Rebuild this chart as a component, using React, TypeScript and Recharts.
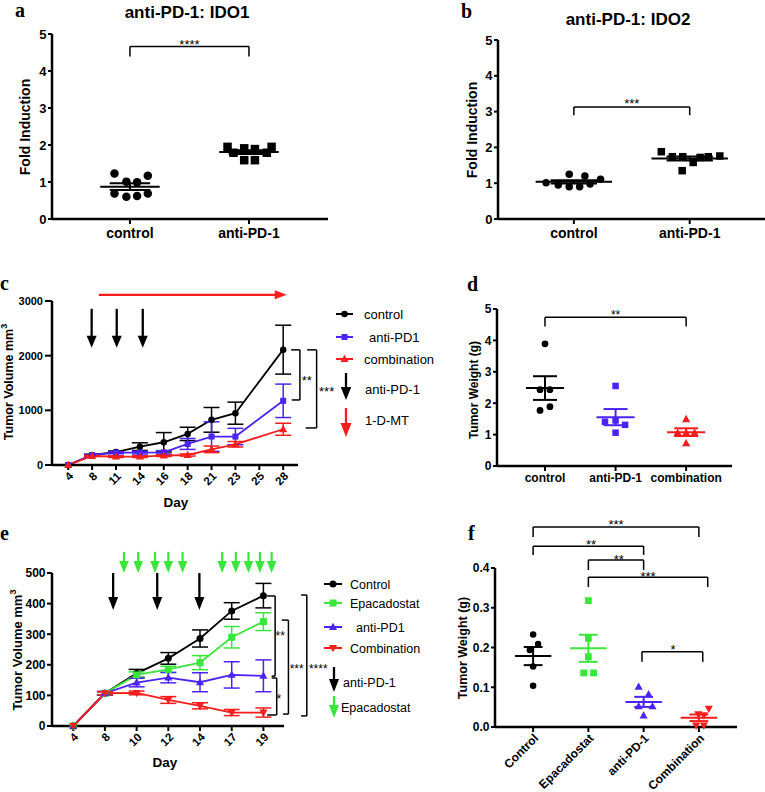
import React from 'react';
import {
  ScatterChart,
  ComposedChart,
  Scatter,
  Line,
  XAxis,
  YAxis,
  ReferenceLine,
  ReferenceDot,
  ErrorBar,
} from 'recharts';

const SANS = '"Liberation Sans", Arial, Helvetica, sans-serif';
const SERIF = '"Liberation Serif", "Times New Roman", serif';
const BLACK = '#000000';
const BLUE = '#4b23f3';
const RED = '#f71d1d';
const GREEN = '#39e639';

// a / b: fold induction
const idoCats = ['control', 'anti-PD-1'];
const ido1Control = [1.23, 1.17, 1.01, 0.99, 0.69, 0.69, 0.6, 0.62];
const ido1ControlJitter = [-0.13, 0.15, -0.03, 0.06, -0.13, 0.15, -0.03, 0.06];
const ido1Anti = [1.95, 1.95, 1.91, 1.89, 1.79, 1.79, 1.59, 1.59];
const ido1AntiJitter = [-0.18, 0.19, -0.04, 0.05, -0.13, 0.15, -0.04, 0.05];
const ido2Control = [1.01, 0.95, 1.25, 0.9, 0.9, 1.2, 0.98, 1.11];
const ido2ControlJitter = [-0.24, -0.135, -0.04, -0.04, 0.05, 0.095, 0.14, 0.23];
const ido2Anti = [1.88, 1.74, 1.74, 1.58, 1.72, 1.74, 1.76, 1.35];
const ido2AntiJitter = [-0.245, -0.15, -0.06, 0.03, 0.09, 0.16, 0.26, -0.065];
const foldTicks = [0, 1, 2, 3, 4, 5];

// c: tumor volume, 1-D-MT study
const cDays = ['4', '8', '11', '14', '16', '18', '21', '23', '25', '28'];
const cMeasured = ['4', '8', '11', '14', '16', '18', '21', '23', '28'];
const cControl = [0, 183, 236, 336, 416, 569, 826, 948, 2110];
const cControlErr = [0, 15, 20, 70, 177, 122, 226, 202, 447];
const cAnti = [0, 183, 226, 226, 232, 385, 520, 520, 1174];
const cAntiErr = [0, 10, 20, 25, 30, 100, 270, 150, 306];
const cCombo = [0, 165, 153, 153, 171, 183, 287, 379, 654];
const cComboErr = [0, 10, 15, 15, 15, 20, 60, 50, 110];
const cVolTicks = [0, 1000, 2000, 3000];
const cAntiDoses = [0.98, 2.03, 3.12];

// d: tumor weight
const wCats = ['control', 'anti-PD-1', 'combination'];
const wControl = [3.89, 2.43, 2.43, 1.77, 1.89];
const wControlJitter = [0, -0.07, 0.07, -0.07, 0.07];
const wAnti = [2.55, 1.41, 1.45, 1.31, 1.06];
const wAntiJitter = [0, -0.15, 0, 0.135, 0];
const wCombo = [1.49, 1.06, 1.06, 1.06, 0.72];
const wComboJitter = [0, -0.12, 0, 0.12, 0];
const wTicks = [0, 1, 2, 3, 4, 5];

// e: tumor volume, epacadostat study
const eDays = ['4', '8', '10', '12', '14', '17', '19'];
const eControl = [0, 107, 172, 221, 286, 376, 426];
const eControlErr = [0, 6, 13, 19, 28, 27, 40];
const eEpa = [0, 107, 167, 185, 207, 290, 341];
const eEpaErr = [0, 5, 10, 10, 23, 35, 29];
const eAnti = [0, 107, 142, 158, 143, 167, 164];
const eAntiErr = [0, 5, 14, 17, 31, 43, 52];
const eCombo = [0, 107, 108, 85, 66, 44, 44];
const eComboErr = [0, 5, 6, 11, 10, 10, 15];
const eVolTicks = [0, 100, 200, 300, 400, 500];
const eAntiDoses = [1.26, 2.65, 3.98];
const eEpaDoses = [1.6, 2.05, 2.58, 3.0, 3.45, 4.7, 5.13, 5.53, 5.89, 6.26];

// f: tumor weight
const fCats = ['Control', 'Epacadostat', 'anti-PD-1', 'Combination'];
const fControl = [0.233, 0.209, 0.194, 0.152, 0.104];
const fControlJitter = [0, 0.09, -0.06, 0, 0];
const fEpa = [0.318, 0.223, 0.177, 0.136, 0.136];
const fEpaJitter = [0, 0, 0, -0.085, 0.095];
const fAnti = [0.101, 0.082, 0.052, 0.052, 0.029];
const fAntiJitter = [-0.09, 0.09, -0.09, 0.16, 0];
const fCombo = [0.046, 0.032, 0.03, 0.004, 0.004];
const fComboJitter = [0.18, -0.01, 0.09, -0.05, 0.09];
const fTicks = [0, 0.1, 0.2, 0.3, 0.4];

type Box = { left: number; top: number; width: number; height: number };
type Plot = { x0: number; x1: number; y0: number; y1: number };

const AXIS = { stroke: BLACK, strokeWidth: 2.5 };
const TICKLINE = { stroke: BLACK, strokeWidth: 2 };

const marginFor = (box: Box, plot: Plot, yw: number, xh: number) => ({
  left: plot.x0 - box.left - yw,
  right: box.left + box.width - plot.x1,
  top: plot.y0 - box.top,
  bottom: box.top + box.height - plot.y1 - xh,
});

const stats = (v: number[]) => {
  const n = v.length;
  const mean = v.reduce((a, b) => a + b, 0) / n;
  const sd = Math.sqrt(v.reduce((a, b) => a + (b - mean) ** 2, 0) / (n - 1));
  return { mean, sem: sd / Math.sqrt(n) };
};

function mark(kind: string, cx: number, cy: number, s: number, color: string) {
  const h = s / 2;
  if (kind === 'circle') return <circle cx={cx} cy={cy} r={h} fill={color} />;
  if (kind === 'square') return <rect x={cx - h} y={cy - h} width={s} height={s} fill={color} />;
  if (kind === 'up')
    return (
      <polygon
        points={`${cx},${cy - s * 0.62} ${cx + s * 0.58},${cy + s * 0.42} ${cx - s * 0.58},${cy + s * 0.42}`}
        fill={color}
      />
    );
  return (
    <polygon
      points={`${cx},${cy + s * 0.62} ${cx + s * 0.58},${cy - s * 0.42} ${cx - s * 0.58},${cy - s * 0.42}`}
      fill={color}
    />
  );
}

const xTick = (labels: string[], size: number, rotate: boolean) => (p: any) => {
  const label = labels[Math.round(p.payload.value)] ?? '';
  if (rotate) {
    const x = p.x + 3;
    return (
      <text x={x} y={p.y} dy={size * 0.35} textAnchor="end" transform={`rotate(-45 ${x} ${p.y})`}
        fontSize={size} fontWeight="bold" fontFamily={SANS} fill={BLACK}>
        {label}
      </text>
    );
  }
  return (
    <text x={p.x} y={p.y} dy={size * 0.72} textAnchor="middle" fontSize={size} fontWeight="bold"
      fontFamily={SANS} fill={BLACK}>
      {label}
    </text>
  );
};

const yTick = (fmt: (v: number) => string, size: number) => (p: any) => (
  <text x={p.x} y={p.y} dy={size * 0.36} textAnchor="end" fontSize={size} fontWeight="bold"
    fontFamily={SANS} fill={BLACK}>
    {fmt(p.payload.value)}
  </text>
);

const starShape = (label: string, size: number) => (p: any) => (
  <text x={p.cx} y={p.cy + size * 0.58} textAnchor="middle" fontSize={size} fontFamily={SANS} fill={BLACK}>
    {label}
  </text>
);

const arrowShape = (color: string, head: number, width: number, sw: number) => (p: any) => {
  const { x1, y1, x2, y2 } = p;
  const len = Math.hypot(x2 - x1, y2 - y1) || 1;
  const ux = (x2 - x1) / len;
  const uy = (y2 - y1) / len;
  const bx = x2 - ux * head;
  const by = y2 - uy * head;
  return (
    <g>
      <line x1={x1} y1={y1} x2={bx + ux} y2={by + uy} stroke={color} strokeWidth={sw} />
      <polygon
        points={`${x2},${y2} ${bx - (uy * width) / 2},${by + (ux * width) / 2} ${bx + (uy * width) / 2},${by - (ux * width) / 2}`}
        fill={color}
      />
    </g>
  );
};

type Group = { name: string; values: number[]; jitter: number[]; color: string; kind: string; size: number };
type TopBracket = { x1: number; x2: number; y: number; drop: number; label: string; lx: number; ly: number };

const seg = (key: string, a: [number, number], b: [number, number], color: string, w: number) => (
  <ReferenceLine key={key} segment={[{ x: a[0], y: a[1] }, { x: b[0], y: b[1] }]} stroke={color}
    strokeWidth={w} ifOverflow="visible" />
);

function ScatterPanel(props: {
  box: Box; plot: Plot; cats: string[]; xDomain: [number, number]; yDomain: [number, number];
  yTicks: number[]; yFmt: (v: number) => string; groups: Group[]; brackets: TopBracket[];
  meanHalf: number; semHalf: number; xFont: number; yFont: number; rotate?: boolean;
  xTickMargin: number; starSize: number;
}) {
  const { box, plot, cats, groups, brackets, meanHalf, semHalf } = props;
  const xh = props.rotate ? 60 : 30;
  const m = marginFor(box, plot, 30, xh);
  return (
    <div style={{ position: 'absolute', left: box.left, top: box.top }}>
      <ScatterChart width={box.width} height={box.height} margin={m}>
        <XAxis type="number" dataKey="x" domain={props.xDomain} ticks={cats.map((_, i) => i)} interval={0}
          height={xh} axisLine={AXIS} tickLine={TICKLINE} tickSize={5} tickMargin={props.xTickMargin}
          tick={xTick(cats, props.xFont, !!props.rotate)} />
        <YAxis type="number" dataKey="y" domain={props.yDomain} ticks={props.yTicks} interval={0} width={30}
          axisLine={AXIS} tickLine={TICKLINE} tickSize={4} tickMargin={1.5} tick={yTick(props.yFmt, props.yFont)} />
        {groups.map((g, gi) => (
          <Scatter key={g.name} name={g.name} isAnimationActive={false}
            data={g.values.map((v, k) => ({ x: gi + g.jitter[k], y: v }))}
            shape={(p: any) => mark(g.kind, p.cx, p.cy, g.size, g.color)} />
        ))}
        {groups.flatMap((g, gi) => {
          const { mean, sem } = stats(g.values);
          return [
            seg(`m${gi}`, [gi - meanHalf, mean], [gi + meanHalf, mean], g.color, 2),
            seg(`su${gi}`, [gi - semHalf, mean + sem], [gi + semHalf, mean + sem], g.color, 2),
            seg(`sl${gi}`, [gi - semHalf, mean - sem], [gi + semHalf, mean - sem], g.color, 2),
            seg(`sv${gi}`, [gi, mean - sem], [gi, mean + sem], g.color, 2),
          ];
        })}
        {brackets.flatMap((b, bi) => [
          seg(`bh${bi}`, [b.x1, b.y], [b.x2, b.y], BLACK, 1.5),
          seg(`bl${bi}`, [b.x1, b.y], [b.x1, b.y - b.drop], BLACK, 1.5),
          seg(`br${bi}`, [b.x2, b.y], [b.x2, b.y - b.drop], BLACK, 1.5),
          <ReferenceDot key={`bt${bi}`} x={b.lx} y={b.ly} ifOverflow="visible"
            shape={starShape(b.label, props.starSize)} />,
        ])}
      </ScatterChart>
    </div>
  );
}

type Series = { key: string; name: string; values: number[]; errs: number[]; color: string; kind: string; size: number };
type SideBracket = { xv: number; yTop: number; yBot: number; xTop: number; xBot: number; label: string; lx: number; ly: number };
type Arrow = { x1: number; y1: number; x2: number; y2: number; color: string; head: number; width: number; sw: number };

function LinePanel(props: {
  box: Box; plot: Plot; tickDays: string[]; dataDays: string[]; xDomain: [number, number];
  yDomain: [number, number]; yTicks: number[]; series: Series[]; brackets: SideBracket[];
  arrows: Arrow[]; starSize: number; yFont: number; yTickSize: number; yTickMargin: number;
}) {
  const { box, plot, tickDays, series } = props;
  const m = marginFor(box, plot, 38, 30);
  const rows = props.dataDays.map((d, i) => {
    const r: Record<string, number> = { x: tickDays.indexOf(d) };
    series.forEach((s) => {
      r[s.key] = s.values[i];
      r[`${s.key}Err`] = s.errs[i];
    });
    return r;
  });
  return (
    <div style={{ position: 'absolute', left: box.left, top: box.top }}>
      <ComposedChart width={box.width} height={box.height} margin={m} data={rows}>
        <XAxis type="number" dataKey="x" domain={props.xDomain} ticks={tickDays.map((_, i) => i)} interval={0}
          height={30} axisLine={AXIS} tickLine={TICKLINE} tickSize={5} tickMargin={4}
          tick={xTick(tickDays, 11.5, true)} />
        <YAxis type="number" domain={props.yDomain} ticks={props.yTicks} interval={0} width={38}
          axisLine={AXIS} tickLine={TICKLINE} tickSize={props.yTickSize} tickMargin={props.yTickMargin}
          tick={yTick((v) => String(v), props.yFont)} />
        {series.map((s) => (
          <Line key={s.key} dataKey={s.key} name={s.name} stroke={s.color} strokeWidth={1.8}
            isAnimationActive={false} activeDot={false}
            dot={(p: any) => <g key={`${s.key}${p.index}`}>{mark(s.kind, p.cx, p.cy, s.size, s.color)}</g>}>
            <ErrorBar dataKey={`${s.key}Err`} direction="y" width={8} stroke={s.color} strokeWidth={1.5} />
          </Line>
        ))}
        {props.brackets.flatMap((b, bi) => [
          seg(`st${bi}`, [b.xTop, b.yTop], [b.xv, b.yTop], BLACK, 1.5),
          seg(`sv${bi}`, [b.xv, b.yTop], [b.xv, b.yBot], BLACK, 1.5),
          seg(`sb${bi}`, [b.xBot, b.yBot], [b.xv, b.yBot], BLACK, 1.5),
          <ReferenceDot key={`sl${bi}`} x={b.lx} y={b.ly} ifOverflow="visible"
            shape={starShape(b.label, props.starSize)} />,
        ])}
        {props.arrows.map((a, ai) => (
          <ReferenceLine key={`ar${ai}`} segment={[{ x: a.x1, y: a.y1 }, { x: a.x2, y: a.y2 }]}
            ifOverflow="visible" shape={arrowShape(a.color, a.head, a.width, a.sw)} />
        ))}
      </ComposedChart>
    </div>
  );
}

const cSeries: Series[] = [
  { key: 'control', name: 'control', values: cControl, errs: cControlErr, color: BLACK, kind: 'circle', size: 6.5 },
  { key: 'anti', name: 'anti-PD1', values: cAnti, errs: cAntiErr, color: BLUE, kind: 'square', size: 6 },
  { key: 'combo', name: 'combination', values: cCombo, errs: cComboErr, color: RED, kind: 'up', size: 7 },
];

const eSeries: Series[] = [
  { key: 'control', name: 'Control', values: eControl, errs: eControlErr, color: BLACK, kind: 'circle', size: 7 },
  { key: 'epa', name: 'Epacadostat', values: eEpa, errs: eEpaErr, color: GREEN, kind: 'square', size: 7 },
  { key: 'anti', name: 'anti-PD1', values: eAnti, errs: eAntiErr, color: BLUE, kind: 'up', size: 7 },
  { key: 'combo', name: 'Combination', values: eCombo, errs: eComboErr, color: RED, kind: 'down', size: 7 },
];

const cArrows: Arrow[] = [
  ...cAntiDoses.map((x) => ({ x1: x, y1: 2857, x2: x, y2: 2143, color: BLACK, head: 12, width: 10, sw: 2.3 })),
  { x1: 1.28, y1: 3113, x2: 9.15, y2: 3113, color: RED, head: 12, width: 9, sw: 2.2 },
];

const eArrows: Arrow[] = [
  ...eAntiDoses.map((x) => ({ x1: x, y1: 500, x2: x, y2: 379, color: BLACK, head: 13, width: 10, sw: 2.3 })),
  ...eEpaDoses.map((x) => ({ x1: x, y1: 569, x2: x, y2: 500, color: GREEN, head: 12, width: 9.5, sw: 2.2 })),
];

const cBrackets: SideBracket[] = [
  { xv: 9.7, yTop: 2106, yBot: 1190, xTop: 9.33, xBot: 9.36, label: '**', lx: 9.99, ly: 1593 },
  { xv: 10.4, yTop: 2106, yBot: 678, xTop: 10.0, xBot: 9.94, label: '***', lx: 10.82, ly: 1392 },
];

const eBrackets: SideBracket[] = [
  { xv: 6.37, yTop: 425, yBot: 163, xTop: 6.12, xBot: 6.26, label: '**', lx: 6.53, ly: 304 },
  { xv: 6.42, yTop: 157, yBot: 36, xTop: 6.26, xBot: 6.12, label: '*', lx: 6.49, ly: 98 },
  { xv: 6.79, yTop: 346, yBot: 39, xTop: 6.58, xBot: 6.62, label: '***', lx: 7.05, ly: 196 },
  { xv: 7.37, yTop: 428, yBot: 33, xTop: 7.19, xBot: 7.19, label: '****', lx: 7.73, ly: 196 },
];

function legendRow(key: string, x1: number, x2: number, y: number, s: Series, tx: number, fs: number) {
  return (
    <g key={key}>
      <line x1={x1} x2={x2} y1={y} y2={y} stroke={s.color} strokeWidth={2} />
      {mark(s.kind, (x1 + x2) / 2, y, s.size, s.color)}
      <text x={tx} y={y + fs * 0.36} fontSize={fs} fontFamily={SANS} fill={BLACK}>{s.name}</text>
    </g>
  );
}

function legendArrow(x: number, y1: number, y2: number, color: string, head: number, width: number) {
  return arrowShape(color, head, width, 2.3)({ x1: x, y1, x2: x, y2 });
}

function Overlay() {
  const bold = { fontFamily: SANS, fontWeight: 'bold' as const, fill: BLACK };
  const vtext = (x: number, y: number, size: number, children: React.ReactNode) => (
    <text x={x} y={y} transform={`rotate(-90 ${x} ${y})`} textAnchor="middle" fontSize={size} {...bold}>
      {children}
    </text>
  );
  const letter = (t: string, x: number, y: number) => (
    <text key={t} x={x} y={y} fontSize={20} fontFamily={SERIF} fontWeight="bold" fill={BLACK}>{t}</text>
  );
  return (
    <svg width={765} height={792} style={{ position: 'absolute', left: 0, top: 0, pointerEvents: 'none' }}>
      {letter('a', 15, 17)}
      {letter('b', 461, 18)}
      {letter('c', 0, 290)}
      {letter('d', 467, 291)}
      {letter('e', 0, 540)}
      {letter('f', 468, 540)}
      <text x={187} y={18} textAnchor="middle" fontSize={17} {...bold}>anti-PD-1: IDO1</text>
      <text x={628} y={25} textAnchor="middle" fontSize={17} {...bold}>anti-PD-1: IDO2</text>
      {vtext(30, 127, 14, 'Fold Induction')}
      {vtext(477, 130, 14, 'Fold Induction')}
      {vtext(13, 382, 12.5, <>Tumor Volume mm<tspan dy={-6} fontSize={9}>3</tspan></>)}
      {vtext(22, 650, 13, <>Tumor Volume mm<tspan dy={-6} fontSize={9}>3</tspan></>)}
      {vtext(478, 390, 12, 'Tumor Weight (g)')}
      {vtext(467, 648, 12.5, 'Tumor Weight (g)')}
      <text x={176} y={507} textAnchor="middle" fontSize={13.5} {...bold}>Day</text>
      <text x={165} y={767} textAnchor="middle" fontSize={13.5} {...bold}>Day</text>

      {legendRow('lc0', 336, 353, 314, cSeries[0], 364, 13)}
      {legendRow('lc1', 336, 353, 337, cSeries[1], 369, 13)}
      {legendRow('lc2', 336, 353, 359, cSeries[2], 364, 13)}
      {legendArrow(346, 373, 400, BLACK, 13, 10.5)}
      <text x={365} y={393.5} fontSize={13} fontFamily={SANS} fill={BLACK}>anti-PD-1</text>
      {legendArrow(346, 408, 437, RED, 14, 11)}
      <text x={365} y={424.5} fontSize={13} fontFamily={SANS} fill={BLACK}>1-D-MT</text>

      {legendRow('le0', 324, 342, 584, eSeries[0], 350, 12.5)}
      {legendRow('le1', 324, 342, 603, eSeries[1], 350, 12.5)}
      {legendRow('le2', 324, 342, 627, eSeries[2], 356, 12.5)}
      {legendRow('le3', 324, 342, 648, eSeries[3], 350, 12.5)}
      {legendArrow(334, 667, 692, BLACK, 13, 10)}
      <text x={343} y={686.5} fontSize={12.5} fontFamily={SANS} fill={BLACK}>anti-PD-1</text>
      {legendArrow(334, 696, 718, GREEN, 13, 10)}
      <text x={341} y={711.5} fontSize={12.5} fontFamily={SANS} fill={BLACK}>Epacadostat</text>
    </svg>
  );
}

const fmtInt = (v: number) => String(v);

export default function App() {
  return (
    <div style={{ position: 'absolute', left: 0, top: 0, width: 765, height: 792, background: '#fff', overflow: 'hidden' }}>
      <ScatterPanel
        box={{ left: 0, top: 0, width: 380, height: 260 }}
        plot={{ x0: 52, x1: 328, y0: 34, y1: 219 }}
        cats={idoCats} xDomain={[-0.655, 1.664]} yDomain={[0, 5]} yTicks={foldTicks} yFmt={fmtInt}
        groups={[
          { name: 'control', values: ido1Control, jitter: ido1ControlJitter, color: BLACK, kind: 'circle', size: 8.5 },
          { name: 'anti-PD-1', values: ido1Anti, jitter: ido1AntiJitter, color: BLACK, kind: 'square', size: 8.5 },
        ]}
        brackets={[{ x1: 0, x2: 1, y: 4.66, drop: 0.27, label: '****', lx: 0.5, ly: 4.79 }]}
        meanHalf={0.25} semHalf={0.17} xFont={14} yFont={13} xTickMargin={4} starSize={13}
      />
      <ScatterPanel
        box={{ left: 380, top: 0, width: 385, height: 260 }}
        plot={{ x0: 498, x1: 765, y0: 40, y1: 219 }}
        cats={idoCats} xDomain={[-0.655, 1.65]} yDomain={[0, 5]} yTicks={foldTicks} yFmt={fmtInt}
        groups={[
          { name: 'control', values: ido2Control, jitter: ido2ControlJitter, color: BLACK, kind: 'circle', size: 7.5 },
          { name: 'anti-PD-1', values: ido2Anti, jitter: ido2AntiJitter, color: BLACK, kind: 'square', size: 7.5 },
        ]}
        brackets={[{ x1: 0, x2: 1, y: 3.13, drop: 0.23, label: '***', lx: 0.5, ly: 3.31 }]}
        meanHalf={0.33} semHalf={0.2} xFont={14} yFont={13} xTickMargin={4} starSize={13}
      />
      <LinePanel
        box={{ left: 0, top: 280, width: 345, height: 240 }}
        plot={{ x0: 52, x1: 298, y0: 301, y1: 465 }}
        tickDays={cDays} dataDays={cMeasured} xDomain={[-0.68, 9.62]} yDomain={[0, 3000]} yTicks={cVolTicks}
        series={cSeries} brackets={cBrackets} arrows={cArrows} starSize={13}
        yFont={11} yTickSize={7} yTickMargin={2}
      />
      <ScatterPanel
        box={{ left: 420, top: 280, width: 345, height: 230 }}
        plot={{ x0: 497, x1: 732, y0: 309, y1: 466 }}
        cats={wCats} xDomain={[-0.68, 2.65]} yDomain={[0, 5]} yTicks={wTicks} yFmt={fmtInt}
        groups={[
          { name: 'control', values: wControl, jitter: wControlJitter, color: BLACK, kind: 'circle', size: 6.8 },
          { name: 'anti-PD-1', values: wAnti, jitter: wAntiJitter, color: BLUE, kind: 'square', size: 6.5 },
          { name: 'combination', values: wCombo, jitter: wComboJitter, color: RED, kind: 'up', size: 7 },
        ]}
        brackets={[{ x1: 0, x2: 2, y: 4.74, drop: 0.3, label: '**', lx: 1, ly: 4.9 }]}
        meanHalf={0.27} semHalf={0.17} xFont={12} yFont={12} xTickMargin={2} starSize={12}
      />
      <LinePanel
        box={{ left: 0, top: 540, width: 345, height: 252 }}
        plot={{ x0: 52, x1: 284, y0: 573, y1: 726 }}
        tickDays={eDays} dataDays={eDays} xDomain={[-0.67, 6.65]} yDomain={[0, 500]} yTicks={eVolTicks}
        series={eSeries} brackets={eBrackets} arrows={eArrows} starSize={12}
        yFont={12} yTickSize={5} yTickMargin={1.5}
      />
      <ScatterPanel
        box={{ left: 420, top: 510, width: 345, height: 282 }}
        plot={{ x0: 495, x1: 737, y0: 568, y1: 727 }}
        cats={fCats} xDomain={[-0.69, 3.69]} yDomain={[0, 0.4]} yTicks={fTicks} yFmt={(v) => v.toFixed(1)}
        groups={[
          { name: 'Control', values: fControl, jitter: fControlJitter, color: BLACK, kind: 'circle', size: 6.5 },
          { name: 'Epacadostat', values: fEpa, jitter: fEpaJitter, color: GREEN, kind: 'square', size: 6.8 },
          { name: 'anti-PD-1', values: fAnti, jitter: fAntiJitter, color: BLUE, kind: 'up', size: 7 },
          { name: 'Combination', values: fCombo, jitter: fComboJitter, color: RED, kind: 'down', size: 7 },
        ]}
        brackets={[
          { x1: 0, x2: 3, y: 0.503, drop: 0.025, label: '***', lx: 1.5, ly: 0.516 },
          { x1: 0, x2: 2, y: 0.455, drop: 0.022, label: '**', lx: 1.05, ly: 0.466 },
          { x1: 1, x2: 2, y: 0.42, drop: 0.025, label: '**', lx: 1.55, ly: 0.428 },
          { x1: 1, x2: 3.16, y: 0.377, drop: 0.025, label: '***', lx: 2.08, ly: 0.387 },
          { x1: 1.97, x2: 3.07, y: 0.189, drop: 0.025, label: '*', lx: 2.53, ly: 0.202 },
        ]}
        meanHalf={0.33} semHalf={0.17} xFont={12} yFont={12} rotate xTickMargin={4} starSize={13}
      />
      <Overlay />
    </div>
  );
}
